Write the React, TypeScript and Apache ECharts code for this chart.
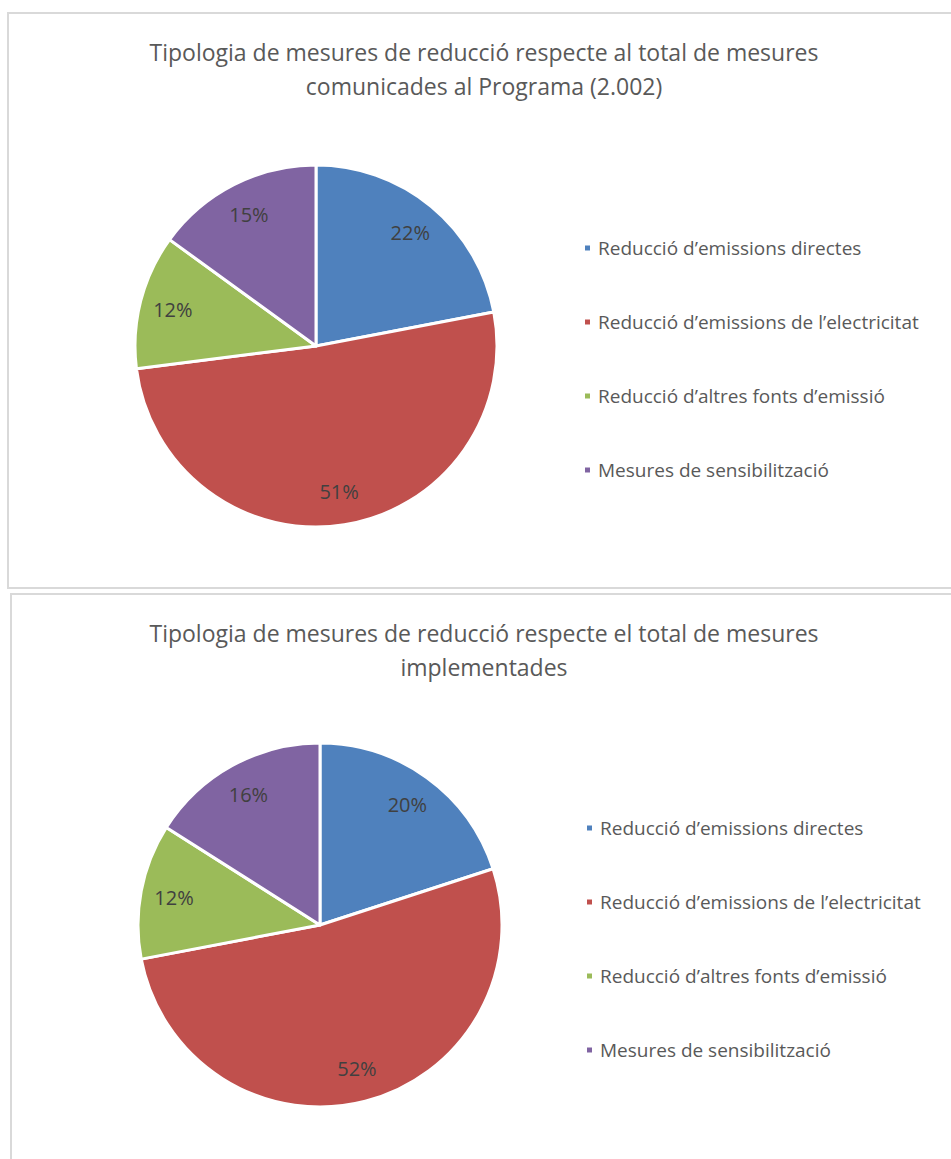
import React, { useEffect, useRef } from "react";
import * as echarts from "echarts";

const categories = [
  "Reducció d’emissions directes",
  "Reducció d’emissions de l’electricitat",
  "Reducció d’altres fonts d’emissió",
  "Mesures de sensibilització",
];
const valuesCommunicated = [22, 51, 12, 15];
const valuesImplemented = [20, 52, 12, 16];
const titleTop = "Tipologia de mesures de reducció respecte al total de mesures\ncomunicades al Programa (2.002)";
const titleBottom = "Tipologia de mesures de reducció respecte el total de mesures\nimplementades";

const colors = ["#4F81BD", "#C0504D", "#9BBB59", "#8064A2"];
const FONT = "'Open Sans', sans-serif";
const TEXT = "#595959";

function pieSeries(values: number[], center: [number, number], r: number) {
  const data = categories.map((name, i) => ({ name, value: values[i] }));
  return [
    {
      type: "pie",
      center,
      radius: [0, r],
      startAngle: 90,
      clockwise: true,
      data,
      label: { show: false },
      labelLine: { show: false },
      itemStyle: { borderColor: "#ffffff", borderWidth: 3 },
      emphasis: { disabled: true },
    },
    {
      type: "pie",
      center,
      radius: [r * 0.6, r],
      startAngle: 90,
      clockwise: true,
      silent: true,
      data,
      legendHoverLink: false,
      itemStyle: { color: "transparent", borderWidth: 0 },
      label: {
        show: true,
        position: "inside",
        formatter: "{c}%",
        color: "#404040",
        fontSize: 20,
        fontFamily: FONT,
      },
      labelLine: { show: false },
      emphasis: { disabled: true },
    },
  ];
}

export default function App() {
  const ref = useRef<HTMLDivElement>(null);
  useEffect(() => {
    if (!ref.current) return;
    const chart = echarts.init(ref.current, null, { renderer: "svg" });
    const legendBase = {
      orient: "vertical",
      icon: "rect",
      itemWidth: 7,
      itemHeight: 7,
      itemGap: 52,
      padding: 0,
      selectedMode: false,
      textStyle: { color: TEXT, fontSize: 19, fontFamily: FONT, lineHeight: 22, padding: [0, 0, 0, 2] },
      data: categories,
    };
    const titleStyle = { color: TEXT, fontSize: 23, fontWeight: "normal", fontFamily: FONT, lineHeight: 34 };
    chart.setOption({
      animation: false,
      color: colors,
      title: [
        { text: titleTop, left: 484, top: 35, textAlign: "center", padding: 0, textStyle: titleStyle },
        { text: titleBottom, left: 484, top: 616, textAlign: "center", padding: 0, textStyle: titleStyle },
      ],
      legend: [
        { ...legendBase, left: 583, top: 237, seriesIndex: 0 },
        { ...legendBase, left: 585, top: 817 },
      ],
      graphic: [
        {
          type: "rect",
          shape: { x: 8, y: 13, width: 970, height: 575 },
          style: { fill: "none", stroke: "#d9d9d9", lineWidth: 2 },
          silent: true,
        },
        {
          type: "rect",
          shape: { x: 11, y: 594, width: 970, height: 600 },
          style: { fill: "none", stroke: "#d9d9d9", lineWidth: 2 },
          silent: true,
        },
      ],
      series: [
        ...pieSeries(valuesCommunicated, [316, 346], 181),
        ...pieSeries(valuesImplemented, [320, 925], 182),
      ],
    });
    return () => chart.dispose();
  }, []);
  return (
    <div
      ref={ref}
      style={{ position: "absolute", left: 0, top: 0, width: 951, height: 1159, background: "#ffffff" }}
    />
  );
}
